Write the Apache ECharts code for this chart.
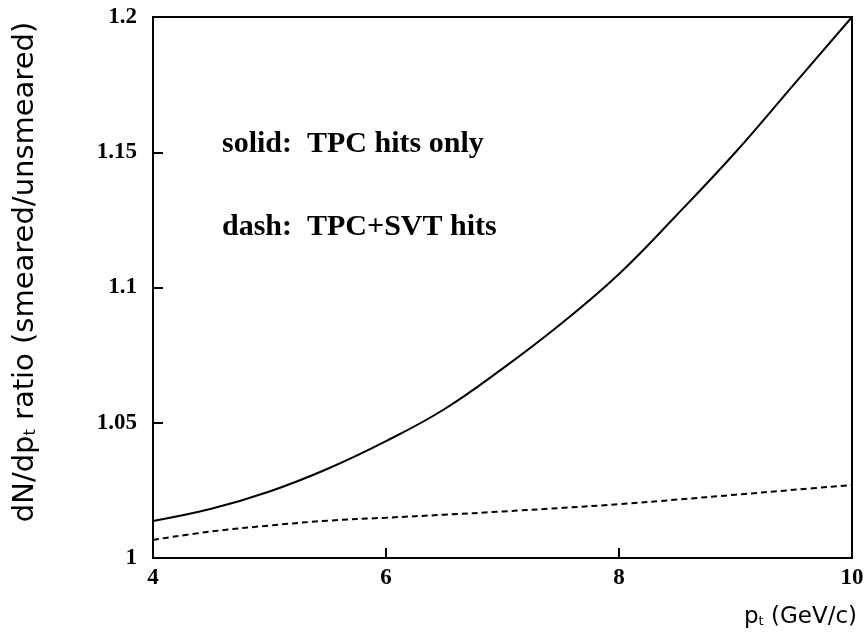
<!DOCTYPE html>
<html>
<head>
<meta charset="utf-8">
<script src="https://cdn.jsdelivr.net/npm/echarts@6/dist/echarts.min.js"></script>
<style>
html,body{margin:0;padding:0;background:#fff;}
#chart{width:867px;height:638px;}
</style>
</head>
<body>
<div id="chart"></div>
<script>
// pt values (GeV/c)
var ptValues = [4, 4.5, 5, 5.5, 6, 6.5, 7, 7.5, 8, 8.5, 9, 9.5, 10];
// solid: TPC hits only
var tpcOnly = [1.0137, 1.0182, 1.0246, 1.0330, 1.0432, 1.055, 1.070, 1.0865, 1.105, 1.127, 1.150, 1.175, 1.200];
// dash: TPC+SVT hits
var tpcSvt = [1.0067, 1.0098, 1.0120, 1.0138, 1.0149, 1.0160, 1.0172, 1.0185, 1.0199, 1.0216, 1.0234, 1.0252, 1.0270];
var xTicks = [4, 6, 8, 10];
var yTicks = [1, 1.05, 1.1, 1.15, 1.2];
var annotations = ['solid:  TPC hits only', 'dash:  TPC+SVT hits'];
var xTitle = 'p{sub|t} (GeV/c)';
var yTitle = 'dN/dp{sub|t} ratio (smeared/unsmeared)';

function pairs(xs, ys){ return xs.map(function(x,i){ return [x, ys[i]]; }); }

var chart = echarts.init(document.getElementById('chart'));
var tickFont = {fontFamily:'Liberation Serif', fontWeight:'bold', fontSize:23, color:'#000'};
chart.setOption({
  animation:false,
  backgroundColor:'#fff',
  grid:{left:153, right:15, top:17, bottom:80, show:true, borderColor:'#000', borderWidth:2},
  xAxis:{
    type:'value', min:xTicks[0], max:xTicks[xTicks.length-1], interval:2,
    axisLine:{lineStyle:{color:'#000', width:2}},
    axisTick:{inside:true, length:10, lineStyle:{color:'#000', width:2}},
    splitLine:{show:false},
    axisLabel:Object.assign({margin:9}, tickFont)
  },
  yAxis:{
    type:'value', min:yTicks[0], max:yTicks[yTicks.length-1], interval:0.05,
    axisLine:{show:true, lineStyle:{color:'#000', width:2}},
    axisTick:{show:true, inside:true, length:10, lineStyle:{color:'#000', width:2}},
    splitLine:{show:false},
    axisLabel:Object.assign({margin:16}, tickFont)
  },
  series:[
    {type:'line', data:pairs(ptValues, tpcOnly), smooth:0.4, showSymbol:false,
     lineStyle:{color:'#000', width:2}},
    {type:'line', data:pairs(ptValues, tpcSvt), smooth:0.4, showSymbol:false,
     lineStyle:{color:'#000', width:2, type:[6,4]}}
  ],
  graphic:[
    {type:'text', x:222, y:144, style:{text:annotations[0], font:'bold 30px "Liberation Serif"', fill:'#000', verticalAlign:'middle'}},
    {type:'text', x:222, y:227, style:{text:annotations[1], font:'bold 30px "Liberation Serif"', fill:'#000', verticalAlign:'middle'}},
    {type:'text', x:857, y:617, style:{text:xTitle, fill:'#000', align:'right', verticalAlign:'middle',
      font:'23px "DejaVu Sans"', rich:{sub:{fontSize:13, fontFamily:'DejaVu Sans', verticalAlign:'bottom', padding:[9,0,0,0]}}}},
    {type:'text', x:25, y:272, rotation:Math.PI/2, style:{text:yTitle, fill:'#000', align:'center', verticalAlign:'middle',
      font:'29px "DejaVu Sans"', rich:{sub:{fontSize:16, fontFamily:'DejaVu Sans', padding:[11,0,0,0]}}}}
  ]
});
</script>
</body>
</html>
